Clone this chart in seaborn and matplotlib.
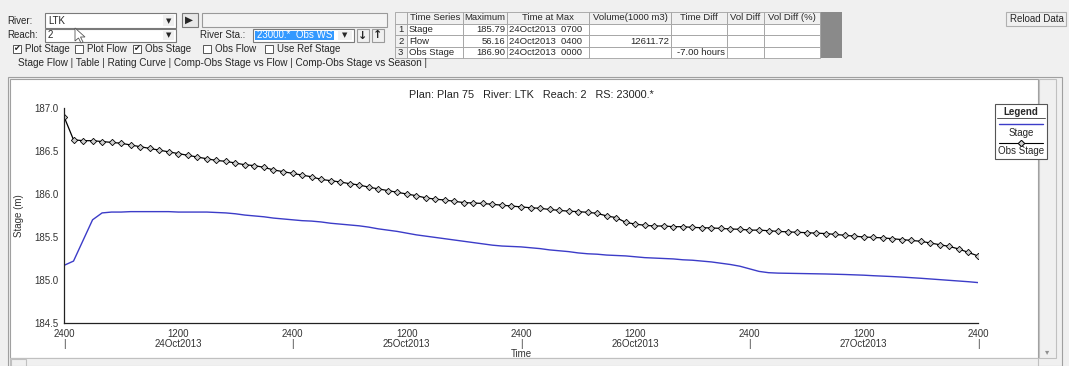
import numpy as np
import pandas as pd
import matplotlib
matplotlib.use("Agg")
import matplotlib.pyplot as plt
from matplotlib.patches import Rectangle, Polygon
from matplotlib.lines import Line2D
from matplotlib.ticker import FixedLocator, MultipleLocator
import seaborn as sns

# ---------------- data ----------------
hours = np.arange(97)  # hourly, 24Oct2013 0000 .. 28Oct2013 0000

stage = [185.17, 185.22, 185.46, 185.70, 185.78, 185.79, 185.79, 185.795, 185.795, 185.795,
         185.795, 185.795, 185.79, 185.79, 185.79, 185.79, 185.785, 185.78, 185.77, 185.755,
         185.745, 185.735, 185.72, 185.71, 185.70, 185.69, 185.685, 185.675, 185.66, 185.65,
         185.64, 185.63, 185.615, 185.595, 185.58, 185.565, 185.545, 185.525, 185.51, 185.495,
         185.48, 185.465, 185.45, 185.435, 185.42, 185.405, 185.395, 185.39, 185.385, 185.375,
         185.365, 185.35, 185.34, 185.33, 185.315, 185.305, 185.30, 185.29, 185.285, 185.28,
         185.27, 185.26, 185.255, 185.25, 185.245, 185.235, 185.23, 185.22, 185.21, 185.195,
         185.18, 185.16, 185.13, 185.10, 185.085, 185.08, 185.078, 185.076, 185.074, 185.072,
         185.07, 185.067, 185.064, 185.06, 185.056, 185.05, 185.045, 185.04, 185.034, 185.027,
         185.02, 185.012, 185.004, 184.996, 184.988, 184.98, 184.97]

obs_stage = [186.90, 186.63, 186.62, 186.62, 186.61, 186.60, 186.59, 186.57, 186.55, 186.53,
             186.51, 186.49, 186.47, 186.45, 186.43, 186.41, 186.39, 186.38, 186.36, 186.34,
             186.33, 186.31, 186.28, 186.26, 186.24, 186.22, 186.20, 186.17, 186.155, 186.14,
             186.12, 186.105, 186.08, 186.06, 186.04, 186.02, 186.00, 185.98, 185.955, 185.94,
             185.93, 185.915, 185.90, 185.895, 185.89, 185.88, 185.87, 185.86, 185.85, 185.84,
             185.834, 185.82, 185.81, 185.80, 185.795, 185.787, 185.775, 185.745, 185.725, 185.67,
             185.65, 185.636, 185.628, 185.628, 185.62, 185.62, 185.612, 185.608, 185.605, 185.60,
             185.593, 185.59, 185.58, 185.58, 185.573, 185.565, 185.56, 185.555, 185.55, 185.545,
             185.54, 185.53, 185.52, 185.51, 185.50, 185.495, 185.49, 185.48, 185.47, 185.46,
             185.45, 185.43, 185.41, 185.39, 185.36, 185.32, 185.28]

major_ticks = [0, 12, 24, 36, 48, 60, 72, 84, 96]
major_labels = ["2400\n|", "1200\n24Oct2013", "2400\n|", "1200\n25Oct2013", "2400\n|",
                "1200\n26Oct2013", "2400\n|", "1200\n27Oct2013", "2400\n|"]
y_ticks = [184.5, 185.0, 185.5, 186.0, 186.5, 187.0]

table_header = ["Time Series", "Maximum", "Time at Max", "Volume(1000 m3)", "Time Diff", "Vol Diff", "Vol Diff (%)"]
table_rows = [["Stage", "185.79", "24Oct2013  0700", "", "", "", ""],
              ["Flow", "56.16", "24Oct2013  0400", "12611.72", "", "", ""],
              ["Obs Stage", "186.90", "24Oct2013  0000", "", "-7.00 hours", "", ""]]

df = pd.DataFrame({"hour": np.concatenate([hours, hours]),
                   "value": stage + obs_stage,
                   "series": ["Stage"] * len(hours) + ["Obs Stage"] * len(hours)})

# ---------------- figure ----------------
sns.set_theme(style="white")
plt.rcParams["font.family"] = ["Liberation Sans", "DejaVu Sans"]

W, H = 1069, 366
fig = plt.figure(figsize=(W / 100, H / 100), dpi=100)
fig.patch.set_facecolor("#f0f0f0")

FS = 7.0


def R(x0, y0, x1, y1, fc="white", ec="#a0a0a0", lw=0.8, z=-10):
    fig.add_artist(Rectangle((x0 / W, 1 - y1 / H), (x1 - x0) / W, (y1 - y0) / H,
                             transform=fig.transFigure, fc=fc, ec=ec, lw=lw, zorder=z))


def L(x0, y0, x1, y1, c="#a0a0a0", lw=0.8, z=-9, **kw):
    fig.add_artist(Line2D([x0 / W, x1 / W], [1 - y0 / H, 1 - y1 / H],
                          transform=fig.transFigure, color=c, lw=lw, zorder=z, **kw))


def T(x, y, s, size=FS, ha="left", va="center", **kw):
    fig.text(x / W, 1 - y / H, s, fontsize=size, ha=ha, va=va, **kw)


# --- top controls ---
T(7, 21, "River:")
R(45, 13, 176, 28, fc="white", ec="#7a7a7a")
T(48, 21, "LTK")
R(163, 15, 174, 26, fc="#f0f0f0", ec="none")
T(168.5, 21, "▼", size=5, ha="center", family="DejaVu Sans")
R(182, 13, 198, 27, fc="#e8e8e8", ec="#7a7a7a")
T(189, 20, "▶", size=7.5, ha="center", family="DejaVu Sans")
R(202, 13, 387, 27, fc="#f4f4f4", ec="#9a9a9a")

T(7, 35, "Reach:")
R(45, 29, 176, 42, fc="white", ec="#7a7a7a")
T(48, 35.5, "2")
R(163, 31, 174, 40, fc="#f0f0f0", ec="none")
T(168.5, 35.5, "▼", size=5, ha="center", family="DejaVu Sans")
fig.add_artist(Polygon([[75 / W, 1 - 28 / H], [75 / W, 1 - 41 / H], [78.5 / W, 1 - 38 / H],
                        [81 / W, 1 - 43 / H], [83 / W, 1 - 42 / H], [80.5 / W, 1 - 37 / H],
                        [85 / W, 1 - 37 / H]], closed=True, transform=fig.transFigure,
                       fc="white", ec="#555555", lw=0.6, zorder=5))

T(200, 35.5, "River Sta.:")
R(253, 29, 354, 42, fc="white", ec="#7a7a7a")
R(255, 31, 334, 40, fc="#3399ff", ec="none", z=-8)
T(257, 35.5, "23000.*  Obs WS", color="white")
R(338, 31, 352, 40, fc="#f0f0f0", ec="none", z=-8)
T(345, 35.5, "▼", size=5, ha="center", family="DejaVu Sans")
R(357, 29, 369, 42, fc="#f0f0f0", ec="#9a9a9a")
T(363, 35.5, "↓", size=8, ha="center", weight="bold", family="DejaVu Sans")
R(372, 29, 384, 42, fc="#f0f0f0", ec="#9a9a9a")
T(378, 35.5, "↑", size=8, ha="center", weight="bold", family="DejaVu Sans")

# checkboxes
for bx, label, checked in [(13, "Plot Stage", True), (75, "Plot Flow", False),
                           (133, "Obs Stage", True), (203, "Obs Flow", False),
                           (265, "Use Ref Stage", False)]:
    R(bx, 45, bx + 8, 53, fc="white", ec="#555555", lw=0.7)
    if checked:
        T(bx + 4, 49, "✔", size=6, ha="center", family="DejaVu Sans")
    T(bx + 12, 49.5, label)

# tabs
T(18, 63.5, "Stage Flow | Table | Rating Curve | Comp-Obs Stage vs Flow | Comp-Obs Stage vs Season |",
  size=7.2)

# table
cols = [395, 407, 463, 507, 589, 671, 727, 764, 820]
rows = [12, 23.5, 35, 46.5, 58]
R(820, 12, 842, 58, fc="#8a8a8a", ec="none")
for ri in range(4):
    y0, y1 = rows[ri], rows[ri + 1]
    for ci in range(len(cols) - 1):
        x0, x1 = cols[ci], cols[ci + 1]
        fc = "#f0f0f0" if (ri == 0 or ci == 0) else "white"
        R(x0, y0, x1, y1, fc=fc, ec="#a0a0a0", lw=0.6)
for ci, h in enumerate(table_header):
    T((cols[ci + 1] + cols[ci + 2]) / 2, 18, h, size=6.8, ha="center")
for ri, row in enumerate(table_rows):
    yc = (rows[ri + 1] + rows[ri + 2]) / 2 + 0.3
    T(398, yc, str(ri + 1), size=6.8)
    for ci, val in enumerate(row):
        if not val:
            continue
        x0, x1 = cols[ci + 1], cols[ci + 2]
        if ci in (0, 2):
            T(x0 + 2, yc, val, size=6.8)
        else:
            T(x1 - 2, yc, val, size=6.8, ha="right")

# reload button
R(1006, 12, 1066, 26, fc="#f0f0f0", ec="#b0b0b0")
T(1064, 19, "Reload Data", ha="right")

# plot panel
R(8, 77, 1062, 366, fc="#f0f0f0", ec="#a0a0a0", z=-12)
R(10, 79, 1038, 358, fc="white", ec="#a0a0a0", z=-11)
R(1039, 79, 1056, 358, fc="#f0f0f0", ec="#c0c0c0", z=-11)
T(1047.5, 352, "▾", size=6, ha="center", color="#909090", family="DejaVu Sans")
R(10, 358, 1038, 366, fc="#f0f0f0", ec="#c0c0c0", z=-11)
R(11, 359, 26, 366, fc="#f0f0f0", ec="#c0c0c0", z=-11)

# title
T(531, 95, "Plan: Plan 75   River: LTK   Reach: 2   RS: 23000.*", size=7.8, ha="center", color="#222222")

# ---------------- axes ----------------
ax = fig.add_axes([64 / W, 1 - 323 / H, (978 - 64) / W, (323 - 108) / H])
ax.set_facecolor("none")

sns.lineplot(data=df[df.series == "Stage"], x="hour", y="value", color="#3c3cc8",
             lw=1.0, ax=ax, legend=False)
sns.lineplot(data=df[df.series == "Obs Stage"], x="hour", y="value", color="black",
             lw=0.9, marker="D", markersize=3.2, markerfacecolor="#cfcfcf",
             markeredgecolor="black", markeredgewidth=0.6, ax=ax, legend=False)

ax.set_xlim(0, 96)
ax.set_ylim(184.5, 187.0)
for s in ["top", "right"]:
    ax.spines[s].set_visible(False)
for s in ["left", "bottom"]:
    ax.spines[s].set_color("#222222")
    ax.spines[s].set_linewidth(0.9)

ax.xaxis.set_major_locator(FixedLocator(major_ticks))
ax.set_xticklabels(major_labels, fontsize=7, color="#333333", linespacing=1.0)
ax.xaxis.set_minor_locator(MultipleLocator(2))
ax.yaxis.set_major_locator(FixedLocator(y_ticks))
ax.set_yticklabels([f"{v:.1f}" for v in y_ticks], fontsize=7, color="#333333")
ax.yaxis.set_minor_locator(MultipleLocator(0.1))
ax.tick_params(axis="both", which="major", direction="inout", length=5, width=0.8,
               color="#222222", pad=1.5)
ax.tick_params(axis="both", which="minor", direction="in", length=3, width=0.6, color="#444444")
ax.set_xlabel("Time", fontsize=7, color="#333333", labelpad=0.5)
ax.set_ylabel("Stage (m)", fontsize=7, color="#333333", labelpad=7)

# ---------------- legend box ----------------
lx0, lx1 = 995, 1047
R(lx0, 104, lx1, 159, fc="white", ec="#555555", lw=0.8, z=2)
T((lx0 + lx1) / 2, 112, "Legend", size=7, ha="center", weight="bold", zorder=4)
L(lx0 + 2, 117.5, lx1 - 2, 117.5, c="#555555", lw=0.7, z=3)
L(lx0 + 4, 124, lx1 - 4, 124, c="#3c3cc8", lw=1.0, z=3)
T((lx0 + lx1) / 2, 133, "Stage", size=7, ha="center", zorder=4)
L(lx0 + 4, 143, lx1 - 4, 143, c="black", lw=0.8, z=3)
L((lx0 + lx1) / 2, 143, (lx0 + lx1) / 2, 143, c="black", lw=0, z=4, marker="D",
  markersize=3.2, markerfacecolor="#cfcfcf", markeredgecolor="black", markeredgewidth=0.6)
T((lx0 + lx1) / 2, 151.5, "Obs Stage", size=7, ha="center", zorder=4)

fig.savefig("out.png", dpi=100, facecolor=fig.get_facecolor())
